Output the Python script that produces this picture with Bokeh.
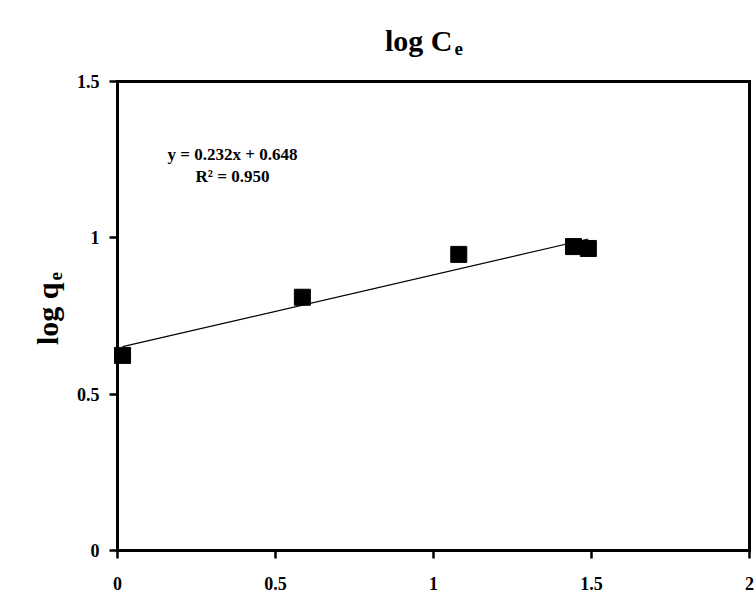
import numpy as np
from bokeh.plotting import figure
from bokeh.models import Range1d, FixedTicker, Label, ColumnDataSource, LinearAxis
from bokeh.embed import file_html
from bokeh.resources import INLINE

# ---- data ----
log_ce = [0.016, 0.585, 1.08, 1.443, 1.49]
log_qe = [0.624, 0.81, 0.947, 0.972, 0.966]
x_ticks = [0, 0.5, 1, 1.5, 2]
x_tick_labels = ["0", "0.5", "1", "1.5", "2"]
y_ticks = [0, 0.5, 1, 1.5]
y_tick_labels = ["0", "0.5", "1", "1.5"]
eq_text = "y = 0.232x + 0.648"
r2_text = "R\u00b2 = 0.950"
title_main = "log C"
title_sub = "e"
ylab_main = "log q"
ylab_sub = "e"

FONT = "Liberation Serif"
W, H = 754, 601

# pixel placement of the data box (0..2, 0..1.5) inside the canvas
box_l, box_r, box_t, box_b = 117, 749, 81, 550
xs = (box_r - box_l) / (x_ticks[-1] - x_ticks[0])
ys = (box_b - box_t) / (y_ticks[-1] - y_ticks[0])
x0 = x_ticks[0] - box_l / xs
x1 = x0 + W / xs
y0 = y_ticks[0] - (H - box_b) / ys
y1 = y0 + H / ys

def px2x(px):
    return x0 + px / xs

def py2y(py):
    return y1 - py / ys

p = figure(width=W, height=H, output_backend="svg", toolbar_location=None,
           x_range=Range1d(x0, x1), y_range=Range1d(y0, y1), min_border=0)

p.xgrid.visible = False
p.ygrid.visible = False
p.outline_line_color = None
p.background_fill_color = "white"

def style_axis(ax, ticks, labels, standoff, bounds, loc):
    ax.fixed_location = loc
    ax.bounds = bounds
    ax.ticker = FixedTicker(ticks=ticks)
    if labels:
        ax.major_label_overrides = {t: l for t, l in zip(ticks, labels)}
    ax.axis_line_width = 3
    ax.axis_line_color = "black"
    ax.axis_line_cap = "square"
    ax.major_tick_line_width = 2.5
    ax.major_tick_line_color = "black"
    ax.major_tick_out = 8
    ax.major_tick_in = 0
    ax.minor_tick_line_color = None
    ax.major_label_text_font = FONT
    ax.major_label_text_font_style = "bold"
    ax.major_label_text_font_size = "18px"
    ax.major_label_text_color = "black"
    ax.major_label_standoff = standoff

style_axis(p.xaxis[0], x_ticks, x_tick_labels, 18, (x_ticks[0], x_ticks[-1]), y_ticks[0])
style_axis(p.yaxis[0], y_ticks, y_tick_labels, 10, (y_ticks[0], y_ticks[-1]), x_ticks[0])

# top and right edges of the box
top_ax = LinearAxis()
style_axis(top_ax, [], None, 0, (x_ticks[0], x_ticks[-1]), y_ticks[-1])
top_ax.major_label_text_font_size = "0px"
p.add_layout(top_ax, "above")
right_ax = LinearAxis()
style_axis(right_ax, [], None, 0, (y_ticks[0], y_ticks[-1]), x_ticks[-1])
right_ax.major_label_text_font_size = "0px"
p.add_layout(right_ax, "right")

# trendline from linear fit
coef = np.polyfit(log_ce, log_qe, 1)
xl = np.array([min(log_ce), max(log_ce)])
p.line(xl, np.polyval(coef, xl), line_color="black", line_width=1.2)

src = ColumnDataSource(dict(x=log_ce, y=log_qe))
p.scatter("x", "y", source=src, marker="square", size=16, fill_color="black", line_color="black")

def lab(x, y, text, size, align="center", angle=0):
    p.add_layout(Label(x=x, y=y, text=text, text_font=FONT, text_font_style="bold",
                       text_font_size=size, text_align=align, angle=angle,
                       text_baseline="middle", text_color="black"))

# title
lab(px2x(452), py2y(40), title_main, "30px", align="right")
lab(px2x(454), py2y(48), title_sub, "19px", align="left")

# y axis label (rotated)
lab(px2x(47), py2y(282), ylab_main, "30px", align="right", angle=np.pi / 2)
lab(px2x(55), py2y(280), ylab_sub, "19px", align="left", angle=np.pi / 2)

# equation
lab(px2x(232), py2y(154), eq_text, "17px")
lab(px2x(232), py2y(176), r2_text, "17px")

open("out.html", "w").write(file_html(p, INLINE))
